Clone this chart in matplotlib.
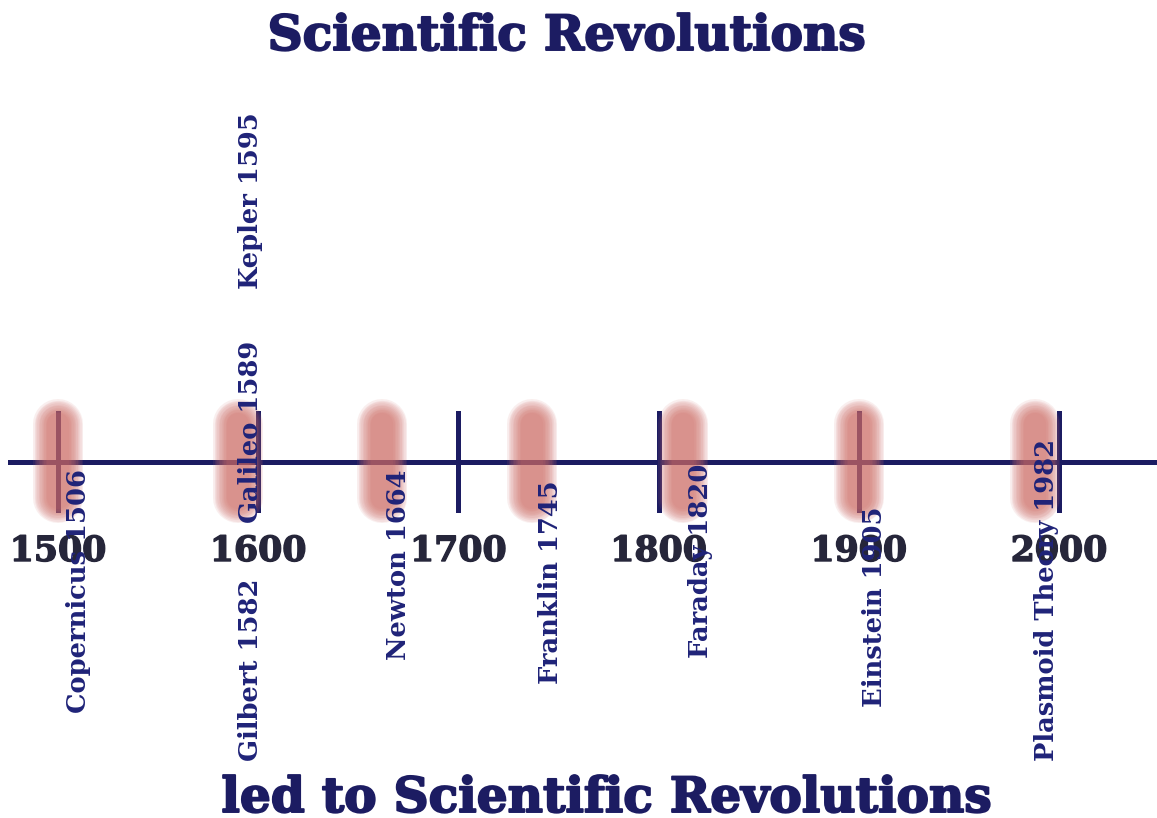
import matplotlib
matplotlib.use("Agg")
import matplotlib.pyplot as plt
import matplotlib.patheffects as pe

# data
events = ["Copernicus", "Gilbert", "Galileo", "Kepler", "Newton",
          "Franklin", "Faraday", "Einstein", "Plasmoid Theory"]
years = [1506, 1582, 1589, 1595, 1664, 1745, 1820, 1905, 1982]
centuries = [1500, 1600, 1700, 1800, 1900, 2000]
title = "Scientific Revolutions"
footer = "led to Scientific Revolutions"

# layout tweaks (pixel rows, year nudges)
label_dx = [4, 14, 7, 1, 6, 1, 1, 3, 12]
label_mid = [591, 670, 432, 201, 565, 582, 561, 607, 600]
blob_dx = [-6, None, 1, None, -2, -8, -8, -5, 6]

navy = "#1c1c62"
text_blue = "#1f2378"
blob_col = "#cf6c66"
line_y = 462

fig = plt.figure(figsize=(11.57, 8.18), dpi=100)
ax = fig.add_axes([0, 0, 1, 1])
ax.set_xlim(1500 - 58 / 2.002, 1500 + 1099 / 2.002)
ax.set_ylim(818, 0)
ax.axis("off")

heavy = [pe.withStroke(linewidth=1.4, foreground=navy)]

# main timeline and century ticks
ax.plot([1476, 2060], [line_y, line_y], color=navy, lw=3.6, zorder=2)
for c in centuries:
    ax.plot([c, c], [413, 510], color=navy, lw=3.6, zorder=2)
    ax.text(c, 551, str(c), ha="center", va="center", fontsize=25,
            family="DejaVu Serif", weight="bold", color="#26263a", zorder=4,
            path_effects=[pe.withStroke(linewidth=1.0, foreground="#26263a")])

# soft red blobs at events
for yr, dx in zip(years, blob_dx):
    if dx is None:
        continue
    x = yr + dx
    for lw in range(36, 14, -2):
        ax.plot([x, x], [424, 498], color=blob_col, lw=lw, alpha=0.11,
                solid_capstyle="round", zorder=3)

# event labels
for name, yr, dx, ym in zip(events, years, label_dx, label_mid):
    ax.text(yr + dx, ym, f"{name} {yr}", rotation=90, ha="center", va="center",
            fontsize=18.5, family="DejaVu Serif", weight="bold",
            color=text_blue, zorder=5)

ax.text(1500 + (567 - 58) / 2.002, 50, title, ha="center", va="baseline",
        fontsize=35, family="DejaVu Serif", weight="bold", color=navy,
        path_effects=heavy)
ax.text(1500 + (607 - 58) / 2.002, 812, footer, ha="center", va="baseline",
        fontsize=35, family="DejaVu Serif", weight="bold", color=navy,
        path_effects=heavy)

fig.savefig("out.png", dpi=100, facecolor="white")
